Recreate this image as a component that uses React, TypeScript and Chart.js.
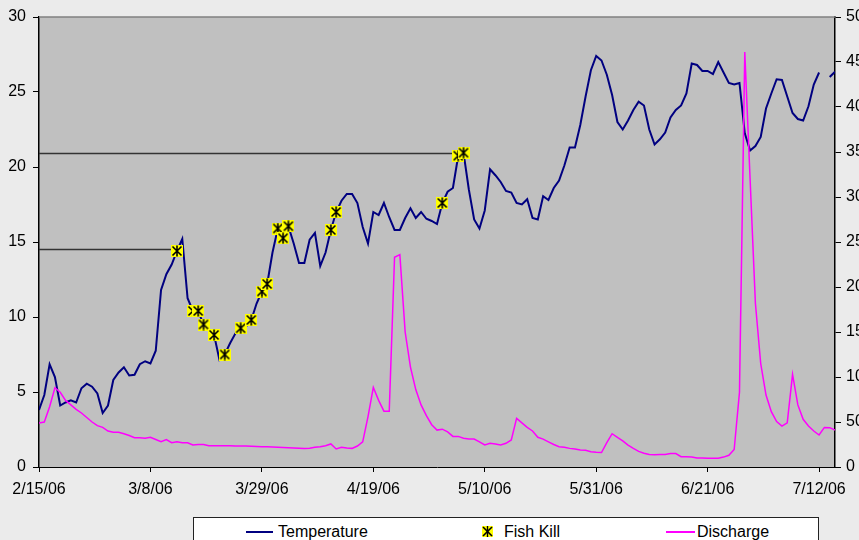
import { useEffect, useRef } from 'react';
import { Chart, registerables } from 'chart.js';

Chart.register(...registerables);

// Day index 0 = 2/15/06
const tickDays = [0, 21, 42, 63, 84, 105, 126, 147];
const tickLabels = ['2/15/06', '3/8/06', '3/29/06', '4/19/06', '5/10/06', '5/31/06', '6/21/06', '7/12/06'];

// Daily water temperature (left axis), 2/15/06 .. 7/14/06
const temperature: (number | null)[] = [
  3.8, 4.8, 6.85, 6.0, 4.1, 4.3, 4.45, 4.3, 5.25, 5.55,
  5.35, 4.9, 3.6, 4.1, 5.8, 6.3, 6.65, 6.1, 6.15, 6.85,
  7.05, 6.9, 7.75, 11.8, 12.85, 13.5, 14.4, 15.2, 11.25, 10.4,
  10.4, 9.5, 9.1, 8.8, 7.15, 7.5, 8.25, 8.9, 9.25, 9.35,
  9.8, 10.9, 11.7, 12.2, 14.3, 15.9, 15.25, 16.05, 14.9, 13.6,
  13.6, 15.15, 15.6, 13.4, 14.3, 15.8, 17.0, 17.75, 18.2, 18.2,
  17.6, 16.0, 14.9, 17.0, 16.8, 17.6, 16.65, 15.8, 15.8, 16.6,
  17.25, 16.6, 17.0, 16.55, 16.4, 16.2, 17.6, 18.35, 18.6, 20.75,
  20.95, 18.5, 16.5, 15.9, 17.1, 19.85, 19.45, 19.0, 18.4, 18.3,
  17.6, 17.5, 17.85, 16.6, 16.5, 18.05, 17.8, 18.6, 19.1, 20.1,
  21.3, 21.3, 22.8, 24.7, 26.45, 27.4, 27.1, 26.15, 24.8, 23.0,
  22.5, 23.1, 23.8, 24.35, 24.1, 22.5, 21.5, 21.85, 22.3, 23.3,
  23.8, 24.1, 24.9, 26.9, 26.8, 26.4, 26.4, 26.2, 27.0, 26.3,
  25.6, 25.5, 25.6, 22.25, 21.1, 21.4, 22.0, 23.9, 24.9, 25.85,
  25.8, 24.7, 23.6, 23.2, 23.1, 24.05, 25.5, 26.3, null, 26.0,
  26.35,
];

// Daily discharge (right axis)
const discharge: number[] = [
  49, 50, 67, 88, 83, 74, 69, 64, 60, 55,
  50, 46, 44, 40, 38.5, 38.5, 37, 35, 32.5, 32.5,
  32, 33, 30.5, 28, 30.5, 27, 28, 27, 27, 24.5,
  25, 25, 23.5, 23.5, 23.5, 23.5, 23.5, 23.3, 23.3, 23.2,
  23, 22.8, 22.6, 22.4, 22.2, 22, 21.8, 21.5, 21.2, 20.8,
  20.5, 20.8, 21.9, 22.6, 23.7, 25.6, 20, 21.9, 21.1, 20.7,
  23.3, 28, 56, 88.5, 74, 62, 62, 233, 236, 150,
  111, 86, 69, 57, 47, 41, 42, 39, 34, 34,
  32, 31, 31, 28, 24.5, 26.3, 25.6, 24.4, 26.3, 30,
  54, 49, 44, 40, 33, 31, 28, 25, 22.6, 22,
  20.7, 20, 19, 18.5, 17, 16.3, 16, 27, 37, 33,
  29, 24.4, 20.7, 17.4, 15.2, 14, 13.7, 13.8, 13.8, 15,
  15, 11.5, 11.3, 11, 10, 10, 9.6, 9.6, 9.8, 11,
  13, 19.5, 83, 461, 320, 182, 115, 80, 61.5, 50.5,
  45.5, 49, 103, 69, 53, 45.5, 40, 35.5, 44, 43.7,
  41,
];

// Fish kill observations
const fishKillDays = [26, 29, 30, 31, 33, 35, 38, 40, 42, 43, 45, 46, 47, 55, 56, 76, 79, 80];
const fishKillTemps = [14.4, 10.4, 10.4, 9.5, 8.8, 7.5, 9.25, 9.8, 11.7, 12.2, 15.9, 15.25, 16.05, 15.8, 17.0, 17.6, 20.75, 20.95];

// Horizontal reference lines (temperature, last day)
const refLineTemps = [14.5, 20.9];
const refLineEndDays = [26, 79];

const FONT = "'Liberation Sans', Arial, sans-serif";

function makeStarMarker(): HTMLCanvasElement {
  const c = document.createElement('canvas');
  c.width = 12;
  c.height = 12;
  const g = c.getContext('2d')!;
  g.fillStyle = '#ffff00';
  g.fillRect(0, 0, 12, 12);
  g.strokeStyle = '#000';
  g.lineWidth = 1.6;
  g.beginPath();
  g.moveTo(1.5, 1.5); g.lineTo(10.5, 10.5);
  g.moveTo(10.5, 1.5); g.lineTo(1.5, 10.5);
  g.moveTo(6, 0.5); g.lineTo(6, 11.5);
  g.stroke();
  return c;
}

export default function App() {
  const ref = useRef<HTMLCanvasElement>(null);

  useEffect(() => {
    const canvas = ref.current!;
    const star = makeStarMarker();

    const plotBg = {
      id: 'plotBg',
      beforeDraw(chart: any) {
        const { ctx, chartArea } = chart;
        const { left, top, right, bottom } = chartArea;
        ctx.save();
        ctx.fillStyle = '#c0c0c0';
        ctx.fillRect(left, top, right - left, bottom - top);
        ctx.restore();
      },
      afterDraw(chart: any) {
        const { ctx, chartArea } = chart;
        ctx.save();
        ctx.strokeStyle = '#808080';
        ctx.lineWidth = 1.5;
        ctx.beginPath();
        ctx.moveTo(chartArea.left, chartArea.top);
        ctx.lineTo(chartArea.right, chartArea.top);
        ctx.stroke();
        ctx.restore();
      },
    };

    const refDatasets = refLineTemps.map((t, i) => ({
      label: 'ref' + i,
      data: [{ x: 0, y: t }, { x: refLineEndDays[i], y: t }],
      borderColor: '#333333',
      borderWidth: 1.5,
      pointRadius: 0,
      yAxisID: 'y',
    }));

    const chart = new Chart(canvas, {
      type: 'line',
      data: {
        datasets: [
          {
            label: 'Fish Kill',
            data: fishKillDays.map((d, i) => ({ x: d, y: fishKillTemps[i] })),
            showLine: false,
            pointStyle: star as any,
            pointRadius: 6,
            yAxisID: 'y',
          },
          {
            label: 'Discharge',
            data: discharge.map((v, i) => ({ x: i, y: v })),
            borderColor: '#ff00ff',
            borderWidth: 1.5,
            pointRadius: 0,
            tension: 0,
            yAxisID: 'y1',
          },
          {
            label: 'Temperature',
            data: temperature.map((v, i) => ({ x: i, y: v })),
            borderColor: '#000080',
            borderWidth: 2,
            pointRadius: 0,
            tension: 0,
            spanGaps: false,
            yAxisID: 'y',
          },
          ...refDatasets,
        ] as any,
      },
      options: {
        animation: false,
        responsive: false,
        maintainAspectRatio: false,
        layout: { padding: { top: 17, left: 0, right: 0, bottom: 0 } },
        plugins: {
          legend: { display: false },
          tooltip: { enabled: false },
        },
        scales: {
          x: {
            type: 'linear',
            min: 0,
            max: 150,
            afterBuildTicks: (s: any) => {
              s.ticks = tickDays.map((v) => ({ value: v }));
            },
            afterFit: (s: any) => {
              s.height = 73;
            },
            ticks: {
              callback: (v: any) => {
                const i = tickDays.indexOf(Number(v));
                return i >= 0 ? tickLabels[i] : '';
              },
              autoSkip: false,
              maxRotation: 0,
              minRotation: 0,
              padding: 8,
              color: '#000',
              font: { family: FONT, size: 16 },
            },
            grid: { drawOnChartArea: false, drawTicks: true, tickLength: 5, color: '#000' },
            border: { display: true, color: '#000', width: 1 },
          },
          y: {
            type: 'linear',
            position: 'left',
            min: 0,
            max: 30,
            afterFit: (s: any) => {
              s.width = 39;
            },
            ticks: {
              stepSize: 5,
              padding: 7,
              color: '#000',
              font: { family: FONT, size: 16 },
            },
            grid: { drawOnChartArea: false, drawTicks: true, tickLength: 6, color: '#000' },
            border: { display: true, color: '#000', width: 1.5 },
          },
          y1: {
            type: 'linear',
            position: 'right',
            min: 0,
            max: 500,
            afterFit: (s: any) => {
              s.width = 24;
            },
            ticks: {
              stepSize: 50,
              padding: 5,
              color: '#000',
              font: { family: FONT, size: 16 },
            },
            grid: { drawOnChartArea: false, drawTicks: true, tickLength: 6, color: '#000' },
            border: { display: true, color: '#000', width: 1.5 },
          },
        },
      } as any,
      plugins: [plotBg],
    });

    return () => chart.destroy();
  }, []);

  const textStyle: React.CSSProperties = {
    position: 'absolute',
    top: 4,
    height: 20,
    lineHeight: '20px',
    fontFamily: FONT,
    fontSize: 16,
    color: '#000',
    whiteSpace: 'nowrap',
  };

  return (
    <div
      style={{
        position: 'fixed',
        left: 0,
        top: 0,
        width: 859,
        height: 540,
        overflow: 'hidden',
        background: '#ebebeb',
      }}
    >
      <canvas ref={ref} width={859} height={540} style={{ position: 'absolute', left: 0, top: 0, width: 859, height: 540 }} />
      <div
        style={{
          position: 'absolute',
          left: 193,
          top: 517,
          width: 626,
          height: 40,
          background: '#fff',
          border: '1px solid #222',
          boxSizing: 'border-box',
        }}
      >
        <div style={{ position: 'absolute', left: 52, top: 13, width: 27, height: 2, background: '#000080' }} />
        <div style={{ ...textStyle, left: 84 }}>Temperature</div>
        <svg style={{ position: 'absolute', left: 288, top: 8 }} width={11} height={11} viewBox="0 0 11 11">
          <rect x={0} y={0} width={11} height={11} fill="#ffff00" />
          <line x1={1} y1={1} x2={10} y2={10} stroke="#000" strokeWidth={1.6} />
          <line x1={10} y1={1} x2={1} y2={10} stroke="#000" strokeWidth={1.6} />
          <line x1={5.5} y1={0} x2={5.5} y2={11} stroke="#000" strokeWidth={1.4} />
        </svg>
        <div style={{ ...textStyle, left: 310 }}>Fish Kill</div>
        <div style={{ position: 'absolute', left: 472, top: 13, width: 29, height: 2, background: '#ff00ff' }} />
        <div style={{ ...textStyle, left: 503 }}>Discharge</div>
      </div>
    </div>
  );
}
